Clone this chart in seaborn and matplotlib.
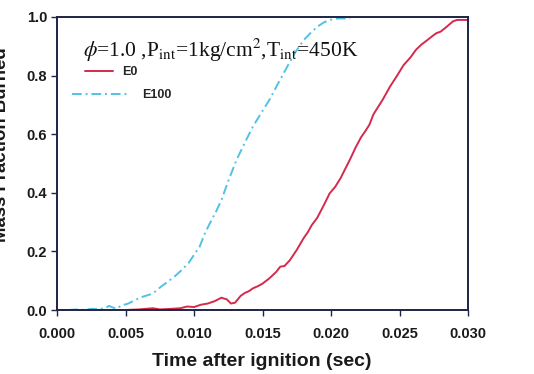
import matplotlib
matplotlib.use("Agg")
import matplotlib.pyplot as plt
import numpy as np
import pandas as pd
import seaborn as sns

# Mass fraction burned vs. time after ignition
e0_time = [0.0050, 0.0060, 0.0070, 0.0075, 0.0080, 0.0090, 0.0095, 0.0100, 0.0105,
           0.0110, 0.0115, 0.0120, 0.0124, 0.0127, 0.0130, 0.0134, 0.0137, 0.0140,
           0.0143, 0.0147, 0.0150, 0.0155, 0.0160, 0.0163, 0.0166, 0.0170, 0.0175,
           0.0180, 0.0183, 0.0186, 0.0190, 0.0195, 0.0199, 0.0203, 0.0207, 0.0210,
           0.0214, 0.0218, 0.0222, 0.0225, 0.0228, 0.0231, 0.0234, 0.0238, 0.0243,
           0.0248, 0.0253, 0.0258, 0.0262, 0.0266, 0.0270, 0.0274, 0.0277, 0.0280,
           0.0284, 0.0289, 0.0292, 0.0300]
e0_mfb = [0.000, 0.002, 0.006, 0.002, 0.003, 0.006, 0.012, 0.010, 0.018,
          0.022, 0.030, 0.042, 0.036, 0.022, 0.025, 0.048, 0.058, 0.064,
          0.074, 0.082, 0.090, 0.108, 0.130, 0.148, 0.150, 0.170, 0.205,
          0.245, 0.265, 0.290, 0.315, 0.360, 0.398, 0.420, 0.450, 0.478,
          0.515, 0.555, 0.590, 0.610, 0.632, 0.668, 0.690, 0.720, 0.762,
          0.798, 0.836, 0.862, 0.888, 0.906, 0.920, 0.935, 0.945, 0.950,
          0.965, 0.985, 0.990, 0.990]

e100_time = [0.0008, 0.0015, 0.0020, 0.0025, 0.0030, 0.0035, 0.0038, 0.0040, 0.0043,
             0.0047, 0.0052, 0.0058, 0.0063, 0.0068, 0.0072, 0.0076, 0.0081, 0.0086,
             0.0090, 0.0096, 0.0100, 0.0104, 0.0108, 0.0112, 0.0116, 0.0120, 0.0125,
             0.0131, 0.0137, 0.0143, 0.0149, 0.0155, 0.0161, 0.0168, 0.0174, 0.0180,
             0.0185, 0.0190, 0.0195, 0.0199, 0.0205, 0.0214]
e100_mfb = [0.000, 0.002, 0.000, 0.004, 0.003, 0.006, 0.014, 0.010, 0.004,
            0.015, 0.022, 0.036, 0.046, 0.053, 0.064, 0.080, 0.097, 0.115,
            0.132, 0.160, 0.188, 0.215, 0.262, 0.300, 0.335, 0.375, 0.440,
            0.512, 0.570, 0.626, 0.672, 0.717, 0.770, 0.830, 0.880, 0.921,
            0.945, 0.967, 0.982, 0.990, 0.995, 0.995]

series_names = ["E0", "E100"]
x_ticks = [0.000, 0.005, 0.010, 0.015, 0.020, 0.025, 0.030]
y_ticks = [0.0, 0.2, 0.4, 0.6, 0.8, 1.0]

df = pd.concat([
    pd.DataFrame({"t": e0_time, "mfb": e0_mfb, "fuel": series_names[0]}),
    pd.DataFrame({"t": e100_time, "mfb": e100_mfb, "fuel": series_names[1]}),
], ignore_index=True)

sns.set_theme(style="white")
plt.rcParams["font.family"] = ["Liberation Sans", "DejaVu Sans"]
plt.rcParams["mathtext.fontset"] = "stix"

W, H = 534, 374
fig = plt.figure(figsize=(W / 100, H / 100), dpi=100)
ax = fig.add_axes([57 / W, 1 - 310 / H, (468 - 57) / W, (310 - 17) / H])

palette = {"E0": "#d42a4c", "E100": "#52c2e4"}
sns.lineplot(data=df, x="t", y="mfb", hue="fuel", style="fuel",
             palette=palette, dashes={"E0": "", "E100": (5, 2, 1, 2)},
             linewidth=1.4, sort=True, estimator=None, ax=ax, legend=False)

ax.set_xlim(0, 0.030)
ax.set_ylim(0, 1.0)
ax.set_xticks(x_ticks)
ax.set_yticks(y_ticks)
ax.set_xticklabels([f"{v:.3f}" for v in x_ticks], fontweight="bold", fontsize=10.5)
ax.set_yticklabels([f"{v:.1f}" for v in y_ticks], fontweight="bold", fontsize=10.5)
spine_col = "#1e2444"
for s in ax.spines.values():
    s.set_color(spine_col)
    s.set_linewidth(1.4)
ax.tick_params(axis="both", direction="out", length=4, width=1.0, color=spine_col,
               labelcolor="#1a1a1a", pad=3, bottom=True, left=True)
ax.tick_params(axis="x", pad=8)
ax.set_xlabel("")
ax.set_ylabel("")

fig.text(262 / W, 1 - 362 / H, "Time after ignition (sec)", ha="center", va="center",
         fontsize=14, fontweight="bold", color="#1a1a1a")
fig.text(2 / W, 1 - 145 / H, "Mass Fraction Burned", ha="center", va="center",
         rotation=90, fontsize=13.4, fontweight="bold", color="#1a1a1a")

ax.text(83 / W, 1 - 50 / H,
        r"$\phi$=1.0 ,P$_{\rm int}$=1kg/cm$^{2}$,T$_{\rm int}$=450K",
        transform=fig.transFigure, ha="left", va="center",
        fontsize=15.5, family="Liberation Serif", color="#111111")

lines = ax.get_lines()
leg1 = ax.legend(handles=[lines[0]], labels=[series_names[0]], loc="center left",
                 bbox_to_anchor=(85 / W, 1 - 72 / H), bbox_transform=fig.transFigure,
                 frameon=False, borderpad=0, borderaxespad=0, handlelength=2.2,
                 handletextpad=0.75, prop={"weight": "bold", "size": 9})
ax.add_artist(leg1)
ax.legend(handles=[lines[1]], labels=[series_names[1]], loc="center left",
          bbox_to_anchor=(72 / W, 1 - 95 / H), bbox_transform=fig.transFigure,
          frameon=False, borderpad=0, borderaxespad=0, handlelength=4.4,
          handletextpad=1.2, prop={"weight": "bold", "size": 9})

fig.savefig("out.png", dpi=100)
